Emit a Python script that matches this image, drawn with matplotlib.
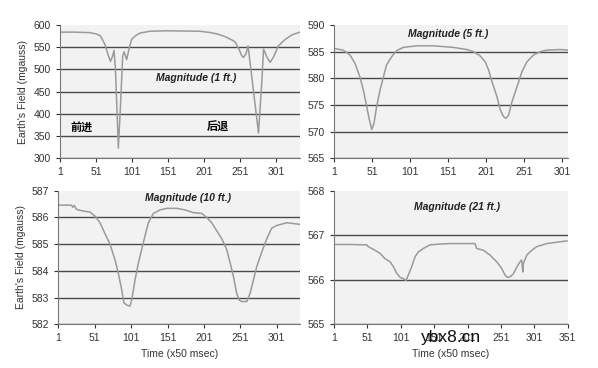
import matplotlib
matplotlib.use('Agg')
import matplotlib.pyplot as plt

plt.rcParams['font.family'] = ['Liberation Sans', 'Noto Sans CJK SC', 'DejaVu Sans']

# sample index (x50 msec) and field magnitude (mgauss)
x_1ft = [1, 20, 42, 51, 57, 63.5, 68, 71, 74, 76, 78, 82, 85, 88, 90, 93.5, 97, 100.5,
         106, 112, 126, 150, 195, 210, 219, 230, 240, 244, 249, 253, 255.5, 259, 262,
         276.5, 281, 283.5, 288, 292.5, 297, 304, 313, 323, 334]
y_1ft = [584, 584, 583, 580, 576, 556, 532, 518, 530, 543, 500, 323, 420, 530, 540, 522, 548, 568,
         576, 582, 586, 587, 586, 583, 580, 574, 566, 562, 547, 532, 527, 535, 553,
         357, 470, 546, 528, 516, 527, 553, 567, 578, 584]

x_5ft = [1, 13, 22, 28.6, 35, 39.6, 44, 47.5, 50.6, 53.6, 57, 61.5, 66, 70, 77, 83.5, 92, 110,
         132, 158, 175.6, 184.4, 193, 199.7, 204, 208.5, 215, 219.4, 223.8, 226.9, 230.4,
         234.8, 241.4, 248, 254.5, 263.3, 272, 281, 298, 308]
y_5ft = [585.6, 585.3, 584.4, 582.8, 580.3, 577.8, 574.7, 572.2, 570.4, 571.6, 574.7, 577.8,
         580.3, 582.5, 584.1, 585.2, 585.8, 586.1, 586.1, 585.8, 585.4, 585.0, 584.2, 583.1,
         581.6, 579.4, 576.6, 574.1, 572.8, 572.5, 573.1, 575.6, 578.4, 581.3, 583.1, 584.4,
         585.0, 585.3, 585.4, 585.3]

x_10ft = [1, 19, 21, 23, 26, 35, 44.5, 51.4, 58.3, 65, 72, 79, 83.5, 88, 91.2, 95, 99.5,
          101.8, 106.4, 111, 115.5, 120, 124.7, 131.6, 140.7, 150, 163.6, 175, 186.5, 198,
          204.8, 211.7, 218.6, 225.5, 232.3, 237, 241.5, 246, 249.7, 253, 259.8, 264.4, 269,
          273.6, 280.4, 287.3, 294.2, 301, 314.8, 333]
y_10ft = [586.46, 586.46, 586.38, 586.45, 586.3, 586.24, 586.2, 586.05, 585.8, 585.4, 585.0,
          584.4, 583.9, 583.3, 582.8, 582.72, 582.68, 582.9, 583.66, 584.3, 584.8, 585.3,
          585.8, 586.15, 586.28, 586.34, 586.34, 586.28, 586.18, 586.15, 586.0, 585.8, 585.5,
          585.2, 584.8, 584.3, 583.8, 583.16, 582.9, 582.85, 582.85, 583.16, 583.66, 584.16,
          584.7, 585.2, 585.6, 585.7, 585.8, 585.74]

x_21ft = [1, 25, 50, 52.4, 62.4, 70, 77.4, 85, 90, 95, 100, 105, 108.8, 112.3, 117.4, 122.3,
          127.3, 134.8, 144.8, 159.8, 174.7, 194.7, 212.2, 214.7, 224.7, 234.7, 244.7, 252.2,
          257.2, 260.7, 264.7, 269.7, 274.7, 279.7, 282.2, 283.7, 284.7, 289.7, 297.2, 304.6,
          319.6, 334.6, 350]
y_21ft = [566.79, 566.79, 566.78, 566.74, 566.66, 566.59, 566.47, 566.4, 566.29, 566.14,
          566.05, 566.02, 565.98, 566.1, 566.29, 566.51, 566.62, 566.7, 566.78, 566.8, 566.81,
          566.81, 566.81, 566.7, 566.66, 566.55, 566.4, 566.25, 566.1, 566.05, 566.06, 566.13,
          566.28, 566.4, 566.44, 566.17, 566.36, 566.55, 566.66, 566.74, 566.81, 566.84, 566.87]

x_ticks = [1, 51, 101, 151, 201, 251, 301]
x_ticks_21 = [1, 51, 101, 151, 201, 251, 301, 351]


def style_panel(ax, x, y, xmax, ylim, ystep, xticks, title, tx, ty):
    ax.plot(x, y, color='#9a9a9a', lw=1.1)
    ax.set_facecolor('#f2f2f2')
    ax.set_xlim(1, xmax)
    ax.set_ylim(*ylim)
    ax.set_yticks([ylim[0] + i * ystep for i in range(int(round((ylim[1] - ylim[0]) / ystep)) + 1)])
    ax.set_xticks(xticks)
    ax.grid(axis='y', color='#4a4a4a', lw=1.0)
    ax.get_ygridlines()[-1].set_visible(False)
    ax.set_axisbelow(True)
    for s in ['top', 'right']:
        ax.spines[s].set_visible(False)
    for s in ['left', 'bottom']:
        ax.spines[s].set_color('#777777')
    ax.tick_params(labelsize=7.5, colors='#333333', length=3, width=0.8)
    ax.text(tx, ty, title, fontsize=7.5, fontweight='bold', style='italic',
            ha='center', va='center', color='#222222')


fig = plt.figure(figsize=(5.98, 3.68), dpi=100)

ax1 = fig.add_axes([0.1003, 0.5698, 0.4013, 0.3622])
style_panel(ax1, x_1ft, y_1ft, 334, (300, 600), 50, x_ticks, 'Magnitude (1 ft.)', 190, 480)
ax1.text(31, 370, '前进', fontsize=8, fontweight='bold', ha='center', va='center',
         family=['Noto Sans CJK SC', 'DejaVu Sans'])
ax1.text(220, 370, '后退', fontsize=8, fontweight='bold', ha='center', va='center',
         family=['Noto Sans CJK SC', 'DejaVu Sans'])
ax1.set_ylabel("Earth's Field (mgauss)", fontsize=7.5, color='#333333')

ax2 = fig.add_axes([0.5585, 0.5698, 0.3908, 0.3622])
style_panel(ax2, x_5ft, y_5ft, 308, (565, 590), 5, x_ticks, 'Magnitude (5 ft.)', 151, 588.4)

ax3 = fig.add_axes([0.0975, 0.1188, 0.4042, 0.3630])
style_panel(ax3, x_10ft, y_10ft, 333, (582, 587), 1, x_ticks, 'Magnitude (10 ft.)', 179, 586.72)
ax3.set_ylabel("Earth's Field (mgauss)", fontsize=7.5, color='#333333')
ax3.set_xlabel('Time (x50 msec)', fontsize=7.5, color='#333333', labelpad=4)

ax4 = fig.add_axes([0.5585, 0.1196, 0.3908, 0.3622])
style_panel(ax4, x_21ft, y_21ft, 351, (565, 568), 1, x_ticks_21, 'Magnitude (21 ft.)', 185, 567.63)
ax4.set_xlabel('Time (x50 msec)', fontsize=7.5, color='#333333', labelpad=4)

# site watermark sitting over the bottom-right tick labels
fig.text(0.754, 0.084, 'ybx8.cn', fontsize=12.5, color='#111111', ha='center', va='center')

fig.savefig('out.png', dpi=100)
